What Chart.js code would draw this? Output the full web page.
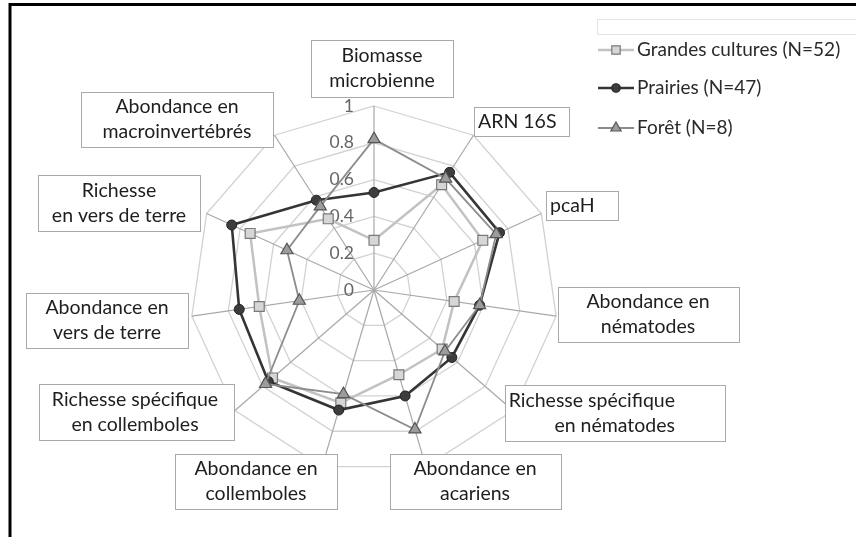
<!DOCTYPE html>
<html lang="fr">
<head>
<meta charset="utf-8">
<script src="https://cdn.jsdelivr.net/npm/chart.js@4.4.1/dist/chart.umd.min.js"></script>
<style>
  html, body { margin: 0; padding: 0; background: #fff; }
  canvas { display: block; }
</style>
</head>
<body>
<canvas id="radar" width="856" height="537"></canvas>
<script>
// axis names, one entry per line of the label
const categories = [
    ['Biomasse', 'microbienne'],
    ['ARN 16S'],
    ['pcaH'],
    ['Abondance en', 'nématodes'],
    ['Richesse spécifique', 'en nématodes'],
    ['Abondance en', 'acariens'],
    ['Abondance en', 'collemboles'],
    ['Richesse spécifique', 'en collemboles'],
    ['Abondance en', 'vers de terre'],
    ['Richesse', 'en vers de terre'],
    ['Abondance en', 'macroinvertébrés']
];

const grandesCultures = [0.27, 0.68, 0.65, 0.44, 0.49, 0.48, 0.64, 0.73, 0.63, 0.74, 0.46];
const prairies = [0.53, 0.76, 0.75, 0.58, 0.56, 0.60, 0.68, 0.76, 0.74, 0.85, 0.58];
const foret = [0.82, 0.72, 0.73, 0.58, 0.51, 0.79, 0.59, 0.78, 0.41, 0.52, 0.54];

const seriesNames = ['Grandes cultures (N=52)', 'Prairies (N=47)', 'Forêt (N=8)'];
const tickValues = [0, 0.2, 0.4, 0.6, 0.8, 1];

// framed boxes for the axis names (same order as categories)
const labelBoxes = [
    { x: 311, y: 40, w: 142, h: 57, tx: 382, align: 'center' },
    { x: 474, y: 107, w: 95, h: 29, tx: 478, align: 'left' },
    { x: 546, y: 191, w: 72, h: 29, tx: 550, align: 'left' },
    { x: 558, y: 287, w: 181, h: 55, tx: 648, align: 'center' },
    { x: 505, y: 385, w: 220, h: 56, tx: 675, align: 'right' },
    { x: 390, y: 454, w: 171, h: 55, tx: 475, align: 'center' },
    { x: 175, y: 454, w: 162, h: 55, tx: 256, align: 'center' },
    { x: 39, y: 384, w: 195, h: 56, tx: 135, align: 'center' },
    { x: 26, y: 293, w: 162, h: 55, tx: 107, align: 'center' },
    { x: 38, y: 175, w: 162, h: 56, tx: 119, align: 'center' },
    { x: 81, y: 92, w: 192, h: 55, tx: 177, align: 'center' }
];

const FONT = 'Lato, "Open Sans", sans-serif';

function drawMarker(ctx, style, x, y, r, fill, stroke) {
    ctx.save();
    ctx.fillStyle = fill;
    ctx.strokeStyle = stroke;
    ctx.lineWidth = 1.2;
    ctx.beginPath();
    if (style === 'rect') {
        const s = r * Math.SQRT1_2;
        ctx.rect(x - s, y - s, 2 * s, 2 * s);
    } else if (style === 'triangle') {
        ctx.moveTo(x, y - r);
        ctx.lineTo(x + r * 0.866, y + r * 0.5);
        ctx.lineTo(x - r * 0.866, y + r * 0.5);
        ctx.closePath();
    } else {
        ctx.arc(x, y, r, 0, Math.PI * 2);
    }
    ctx.fill();
    ctx.stroke();
    ctx.restore();
}

const decorations = {
    id: 'decorations',
    beforeDraw(chart) {
        const ctx = chart.ctx;
        ctx.save();
        ctx.fillStyle = '#fff';
        ctx.fillRect(0, 0, chart.width, chart.height);
        // outer frame, only top and left edges fall inside the canvas
        ctx.strokeStyle = '#000';
        ctx.lineWidth = 3;
        ctx.beginPath();
        ctx.moveTo(10, chart.height);
        ctx.lineTo(10, 4.5);
        ctx.lineTo(chart.width, 4.5);
        ctx.stroke();
        ctx.restore();
    },
    beforeDatasetsDraw(chart) {
        const ctx = chart.ctx;
        const r = chart.scales.r;
        ctx.save();
        ctx.font = '17.5px ' + FONT;
        ctx.fillStyle = '#666';
        ctx.textAlign = 'right';
        ctx.textBaseline = 'middle';
        tickValues.forEach(v => {
            const d = r.getDistanceFromCenterForValue(v);
            ctx.fillText(String(v), r.xCenter - 20, r.yCenter - d);
        });
        ctx.restore();
    },
    afterDraw(chart) {
        const ctx = chart.ctx;
        ctx.save();
        // axis name boxes
        ctx.font = '19.5px ' + FONT;
        ctx.textBaseline = 'middle';
        labelBoxes.forEach((b, i) => {
            ctx.fillStyle = '#fff';
            ctx.fillRect(b.x, b.y, b.w, b.h);
            ctx.strokeStyle = '#a9a9a9';
            ctx.lineWidth = 1;
            ctx.strokeRect(b.x + 0.5, b.y + 0.5, b.w, b.h);
            const lines = chart.data.labels[i];
            const cy = b.y + b.h / 2;
            ctx.fillStyle = '#1e1e1e';
            ctx.textAlign = b.align;
            lines.forEach((t, k) => {
                ctx.fillText(t, b.tx, cy + (k - (lines.length - 1) / 2) * 25);
            });
        });

        // legend
        ctx.strokeStyle = '#e4e4e4';
        ctx.lineWidth = 1;
        ctx.strokeRect(597.5, 19.5, 270, 15);
        const rows = [50, 88, 128];
        ctx.font = '19px ' + FONT;
        ctx.textAlign = 'left';
        chart.data.datasets.forEach((ds, i) => {
            const y = rows[i];
            ctx.strokeStyle = ds.borderColor;
            ctx.lineWidth = ds.borderWidth;
            ctx.beginPath();
            ctx.moveTo(598, y);
            ctx.lineTo(634, y);
            ctx.stroke();
            drawMarker(ctx, ds.pointStyle, 616, y, ds.pointRadius * 0.85,
                ds.pointBackgroundColor, ds.pointBorderColor);
            ctx.fillStyle = '#2a2a2a';
            ctx.fillText(ds.label, 637, y);
        });
        ctx.restore();
    }
};

new Chart(document.getElementById('radar'), {
    type: 'radar',
    data: {
        labels: categories,
        datasets: [{
            label: seriesNames[0],
            data: grandesCultures,
            borderColor: '#c2c2c2',
            borderWidth: 2.5,
            backgroundColor: 'transparent',
            fill: false,
            pointStyle: 'rect',
            pointRadius: 7,
            pointBackgroundColor: '#d6d6d6',
            pointBorderColor: '#7a7a7a',
            pointBorderWidth: 1.2,
            order: 3
        }, {
            label: seriesNames[1],
            data: prairies,
            borderColor: '#353535',
            borderWidth: 2.6,
            backgroundColor: 'transparent',
            fill: false,
            pointStyle: 'circle',
            pointRadius: 5,
            pointBackgroundColor: '#3d3d3d',
            pointBorderColor: '#222',
            pointBorderWidth: 1,
            order: 2
        }, {
            label: seriesNames[2],
            data: foret,
            borderColor: '#8c8c8c',
            borderWidth: 1.8,
            backgroundColor: 'transparent',
            fill: false,
            pointStyle: 'triangle',
            pointRadius: 7,
            pointBackgroundColor: '#9c9c9c',
            pointBorderColor: '#555',
            pointBorderWidth: 1.2,
            order: 1
        }]
    },
    options: {
        responsive: false,
        animation: false,
        devicePixelRatio: 1,
        layout: {
            padding: { left: 190, right: 298, top: 106, bottom: 63 }
        },
        plugins: {
            legend: { display: false },
            tooltip: { enabled: false }
        },
        elements: {
            line: { tension: 0 }
        },
        scales: {
            r: {
                min: 0,
                max: 1,
                ticks: { stepSize: 0.2, display: false },
                pointLabels: { display: false },
                grid: { color: '#d2d2d2', lineWidth: 1.3 },
                angleLines: { color: '#a8a8a8', lineWidth: 1.2 }
            }
        }
    },
    plugins: [decorations]
});
</script>
</body>
</html>
